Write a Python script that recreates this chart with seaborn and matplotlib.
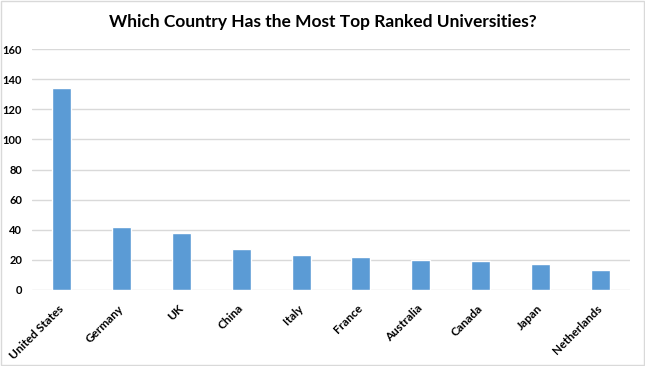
import matplotlib
matplotlib.use("Agg")
import matplotlib.pyplot as plt
import seaborn as sns
import pandas as pd
from matplotlib.patches import Rectangle

countries = ["United States", "Germany", "UK", "China", "Italy", "France",
             "Australia", "Canada", "Japan", "Netherlands"]
universities = [134, 42, 38, 27, 23, 22, 20, 19, 17, 13]
y_ticks = [0, 20, 40, 60, 80, 100, 120, 140, 160]

df = pd.DataFrame({"country": countries, "count": universities})

sns.set_theme(style="white")
plt.rcParams['font.family'] = ['Lato', 'DejaVu Sans']

fig = plt.figure(figsize=(6.45, 3.66), dpi=100)
ax = fig.add_axes([32/645, 76/366, 598/645, 241/366])

sns.barplot(data=df, x="country", y="count", color="#5B9BD5", saturation=1,
            width=0.32, ax=ax, zorder=3)

ax.set_ylim(0, 160)
ax.set_yticks(y_ticks)
ax.set_xlim(-0.5, len(countries) - 0.5)
ax.yaxis.grid(True, color="#D9D9D9", linewidth=1, zorder=0)
for s in ax.spines.values():
    s.set_visible(False)
ax.set_xlabel("")
ax.set_ylabel("")
ax.tick_params(axis="both", length=0)
ax.tick_params(axis="y", pad=7)
ax.set_yticklabels([str(t) for t in y_ticks], fontsize=8, fontweight="bold", color="black")
ax.set_xticks(range(len(countries)))
ax.set_xticklabels(countries, rotation=45, ha="right", va="center",
                   rotation_mode="anchor", fontsize=8.5, fontweight="bold", color="black")
ax.tick_params(axis="x", pad=12)

fig.text(0.5, 1 - 22/366, "Which Country Has the Most Top Ranked Universities?",
         ha="center", va="center", fontsize=12.5, fontweight="bold", color="black")

fig.patches.append(Rectangle((0.001, 0.002), 0.997, 0.995, transform=fig.transFigure,
                             fill=False, edgecolor="#D9D9D9", linewidth=1))

fig.savefig("out.png", dpi=100)
